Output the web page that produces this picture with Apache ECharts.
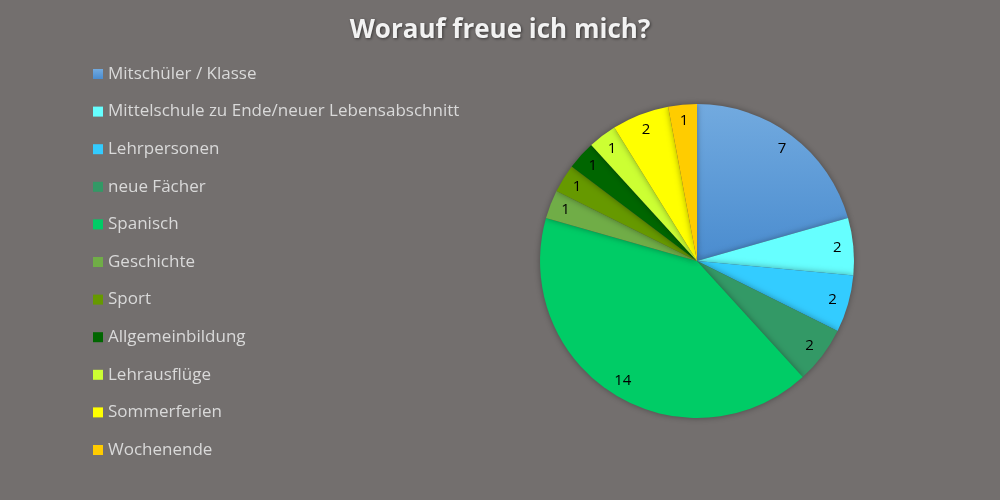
<!DOCTYPE html>
<html>
<head>
<meta charset="utf-8">
<script src="https://cdn.jsdelivr.net/npm/echarts@6/dist/echarts.min.js"></script>
<style>
  html, body { margin: 0; padding: 0; background: #736f6e; }
  #main { width: 1000px; height: 500px; }
</style>
</head>
<body>
<div id="main"></div>
<script>
// Kategorien und Werte
const categories = [
  'Mitschüler / Klasse',
  'Mittelschule zu Ende/neuer Lebensabschnitt',
  'Lehrpersonen',
  'neue Fächer',
  'Spanisch',
  'Geschichte',
  'Sport',
  'Allgemeinbildung',
  'Lehrausflüge',
  'Sommerferien',
  'Wochenende'
];
const values = [7, 2, 2, 2, 14, 1, 1, 1, 1, 2, 1];
const colors = [
  '#5b9bd5', '#66ffff', '#33ccff', '#339966', '#00cc66',
  '#70ad47', '#669900', '#006600', '#ccff33', '#ffff00', '#ffcc00'
];

const chart = echarts.init(document.getElementById('main'));

const fontFam = '"Open Sans", "DejaVu Sans", sans-serif';

// erste Scheibe mit leichtem Farbverlauf wie im Original
function sliceColor(i) {
  if (i === 0) {
    return new echarts.graphic.LinearGradient(0, 0, 0, 1, [
      { offset: 0, color: '#72aadf' },
      { offset: 1, color: '#4a8ccf' }
    ]);
  }
  return colors[i];
}

const pieData = categories.map((name, i) => ({
  name: name,
  value: values[i],
  itemStyle: { color: sliceColor(i) }
}));

const option = {
  backgroundColor: '#736f6e',
  animation: false,
  title: {
    text: 'Worauf freue ich mich?',
    left: 'center',
    top: 13,
    textStyle: {
      color: '#f2f2f2',
      fontSize: 26,
      fontWeight: 'bold',
      fontFamily: fontFam,
      textShadowColor: 'rgba(0,0,0,0.5)',
      textShadowBlur: 3,
      textShadowOffsetX: 1,
      textShadowOffsetY: 1
    }
  },
  legend: {
    orient: 'vertical',
    left: 88,
    top: 59,
    icon: 'rect',
    itemWidth: 10,
    itemHeight: 10,
    itemGap: 17.6,
    data: categories,
    textStyle: {
      color: '#d9d9d9',
      fontSize: 17,
      lineHeight: 20,
      fontFamily: fontFam
    }
  },
  series: [
    {
      type: 'pie',
      center: [697, 261],
      radius: [0, 157],
      startAngle: 90,
      clockwise: true,
      data: pieData,
      label: { show: false },
      labelLine: { show: false },
      itemStyle: {
        borderWidth: 0,
        shadowColor: 'rgba(0,0,0,0.35)',
        shadowBlur: 6
      },
      emphasis: { disabled: true }
    },
    {
      // unsichtbarer Ring nur für die Beschriftungen nahe am Rand
      type: 'pie',
      center: [697, 261],
      radius: [118, 158],
      startAngle: 90,
      clockwise: true,
      silent: true,
      data: categories.map((name, i) => ({ name: name, value: values[i] })),
      itemStyle: { color: 'rgba(0,0,0,0)' },
      label: {
        show: true,
        position: 'inside',
        formatter: '{c}',
        color: '#000',
        fontSize: 15,
        fontFamily: fontFam
      },
      labelLine: { show: false },
      emphasis: { disabled: true }
    }
  ]
};

chart.setOption(option);
</script>
</body>
</html>
